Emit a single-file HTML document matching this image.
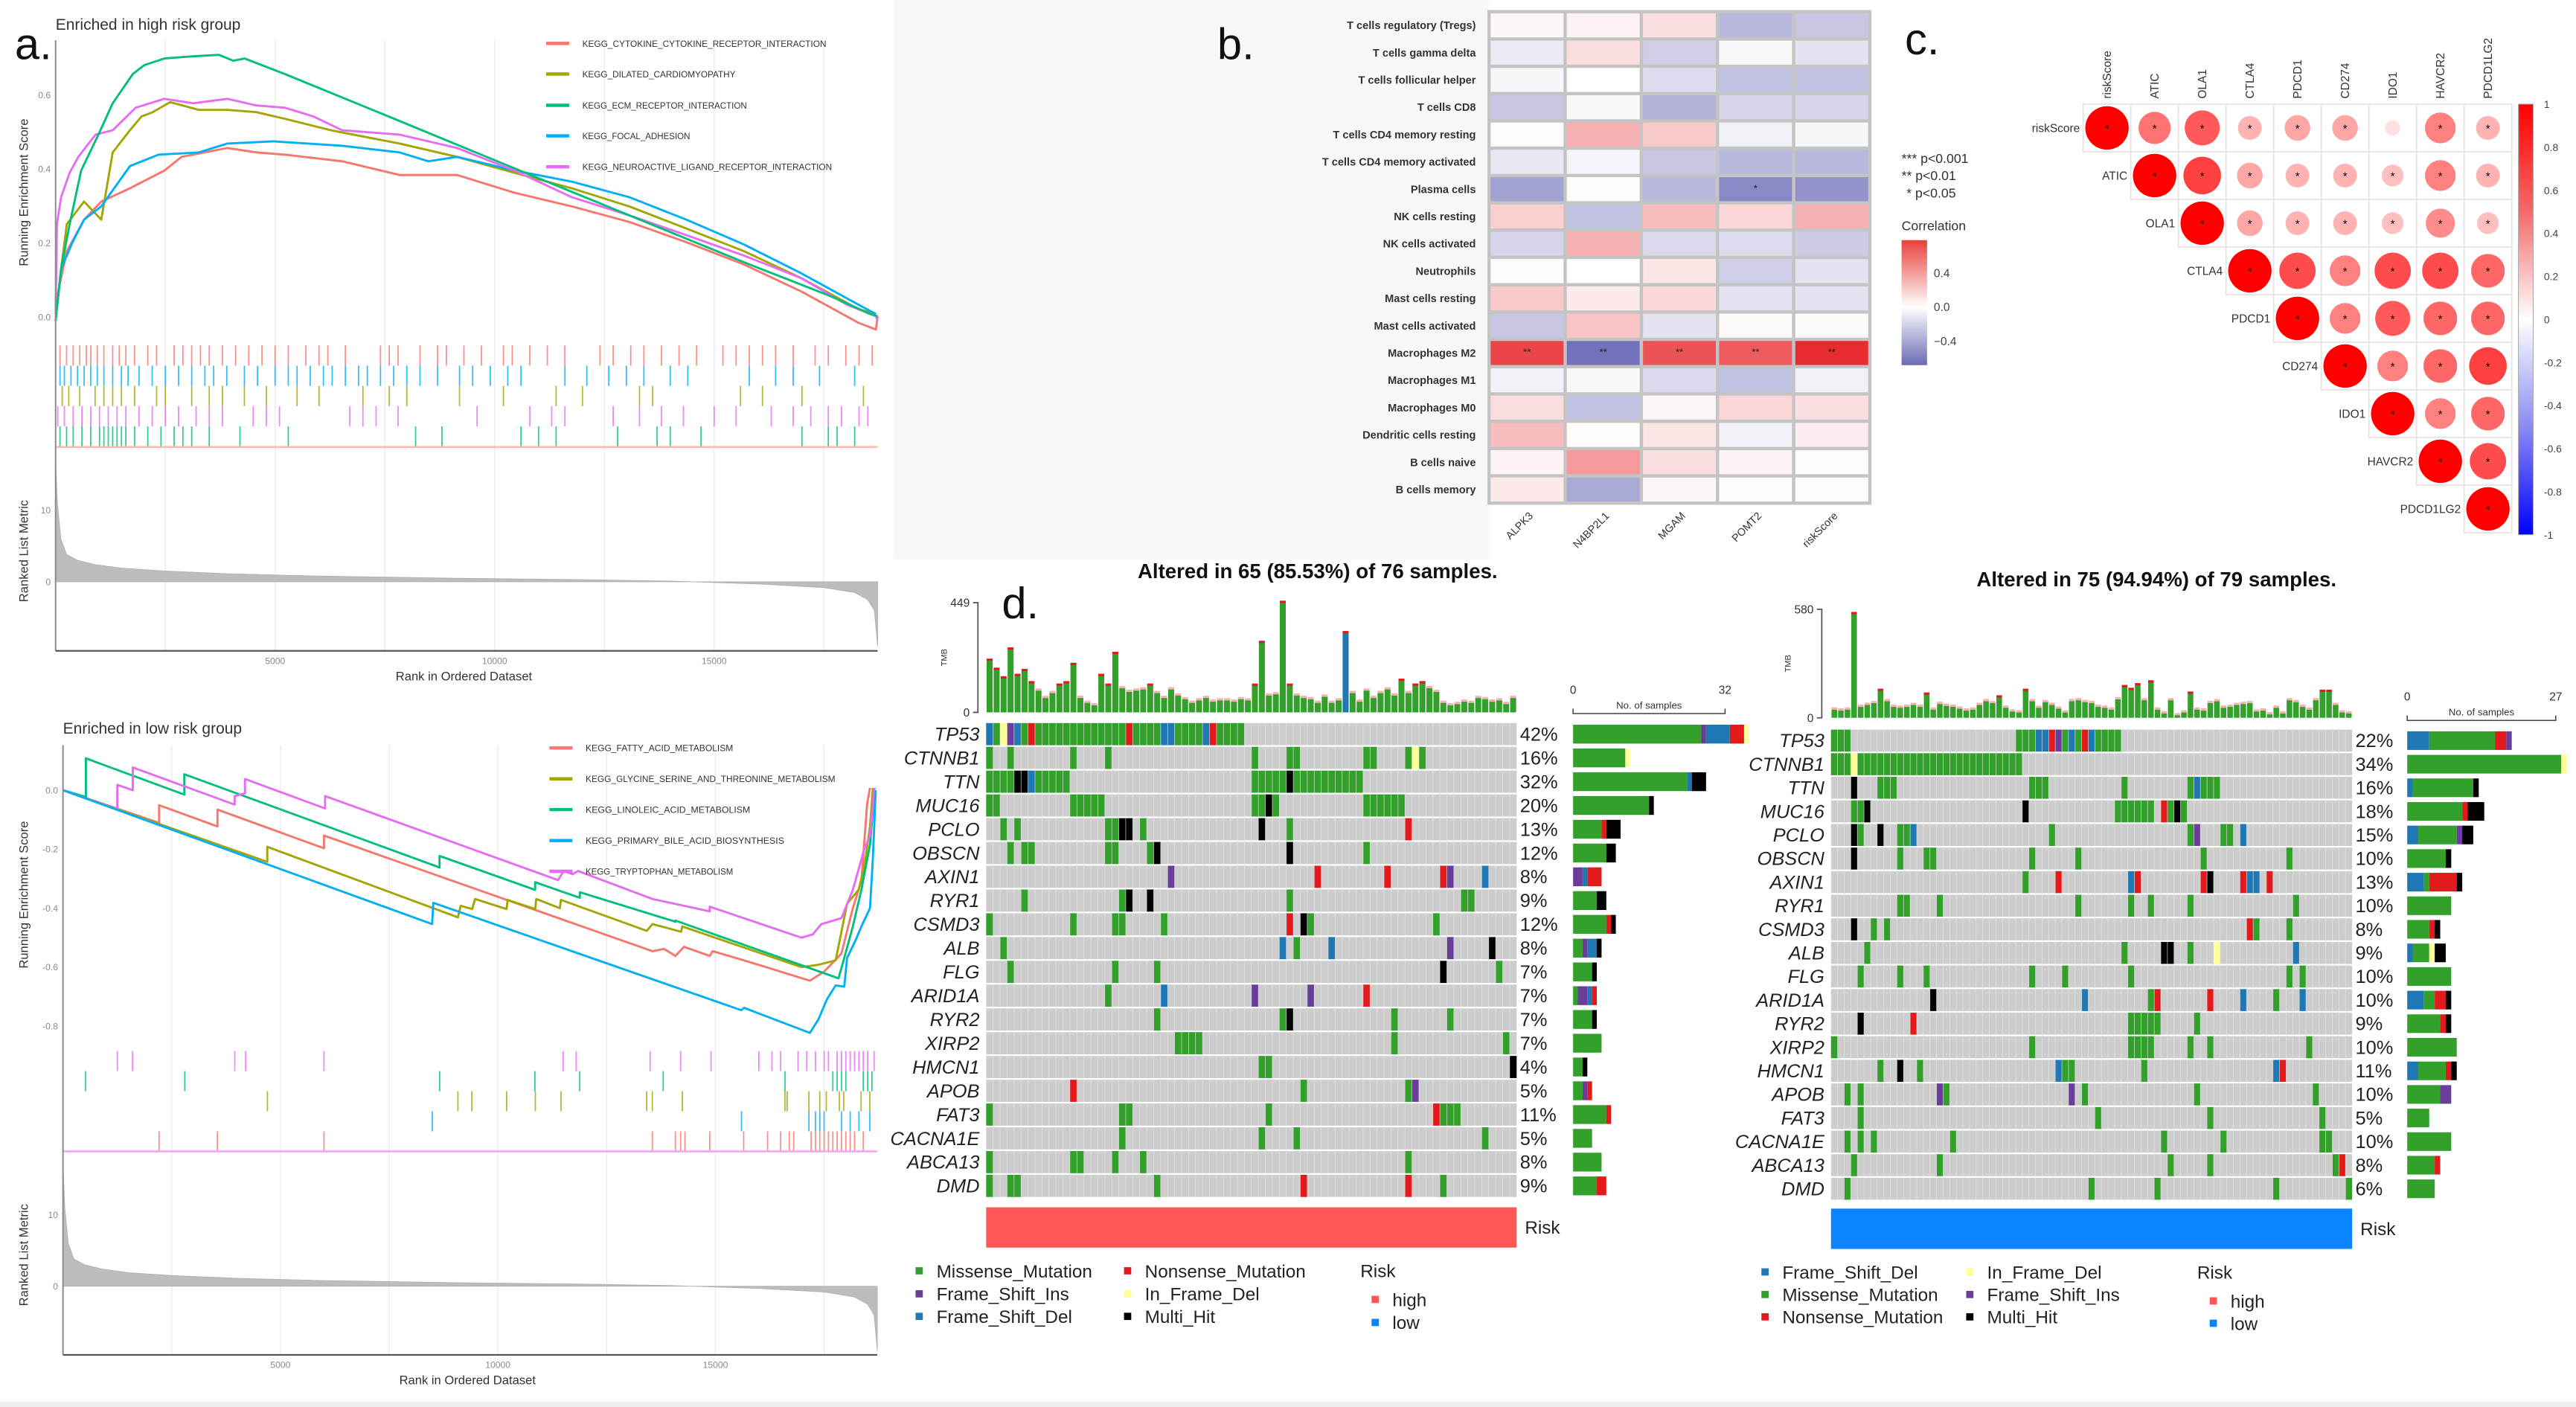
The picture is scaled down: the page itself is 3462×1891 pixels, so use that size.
<!DOCTYPE html>
<html><head><meta charset="utf-8">
<style>
html,body{margin:0;padding:0;background:#fff;}
svg{display:block;font-family:"Liberation Sans",Arial,sans-serif;}
</style></head>
<body>
<svg id="fig" xmlns="http://www.w3.org/2000/svg" width="3462" height="1891" viewBox="0 0 1566 855.4" preserveAspectRatio="none">
<rect x="0" y="0" width="1566" height="856" fill="#fff"/>
<rect x="543" y="0" width="362" height="340" fill="#f8f8f8"/>
<rect x="0" y="852" width="1566" height="4" fill="#f0f0f0"/>
<defs>
<linearGradient id="hmgrad" x1="0" y1="0" x2="0" y2="1">
<stop offset="0" stop-color="#e8413c"/><stop offset="0.535" stop-color="#ffffff"/><stop offset="1" stop-color="#6b6bb5"/></linearGradient>
<linearGradient id="cgrad" x1="0" y1="0" x2="0" y2="1">
<stop offset="0" stop-color="#ff0000"/><stop offset="0.25" stop-color="#f46a6a"/><stop offset="0.5" stop-color="#ffffff"/><stop offset="0.75" stop-color="#8a8af4"/><stop offset="1" stop-color="#0000ff"/></linearGradient>
</defs>
</svg>
<script>
// ---------- DATA: GSEA high risk ----------
const topNames=['KEGG_CYTOKINE_CYTOKINE_RECEPTOR_INTERACTION','KEGG_DILATED_CARDIOMYOPATHY','KEGG_ECM_RECEPTOR_INTERACTION','KEGG_FOCAL_ADHESION','KEGG_NEUROACTIVE_LIGAND_RECEPTOR_INTERACTION'];
const topRankRed=[0,60,255,648,1040,1693,2478,2870,3915,4569,5222,6529,7836,9143,10450,11757,13064,14371,15678,16985,18292,18684,18723];
const topEsRed=[-.010,.069,.178,.263,.312,.348,.396,.433,.457,.445,.439,.421,.384,.384,.336,.299,.257,.202,.142,.069,-.016,-.034,.002];
const topRankOlive=[0,125,255,648,1040,1301,1693,1955,2216,2608,3262,3915,4569,5222,6268,7836,9143,10450,11757,13064,14371,15678,16985,18292,18684];
const topEsOlive=[-.010,.130,.251,.312,.263,.445,.505,.542,.554,.581,.560,.560,.554,.536,.505,.469,.433,.390,.348,.299,.239,.178,.105,.021,.008];
const topRankGreen=[0,125,320,582,974,1301,1759,2020,2478,3131,3719,4046,4307,5222,7836,10450,13064,15678,17638,18553,18723];
const topEsGreen=[-.010,.130,.251,.396,.493,.578,.657,.681,.699,.705,.709,.693,.699,.657,.530,.402,.275,.148,.057,.008,.002];
const topRankBlue=[0,125,385,648,1040,1693,2347,3262,3915,4961,6529,7836,8490,9143,10450,11757,13064,14371,15678,16985,18292,18684];
const topEsBlue=[-.010,.130,.202,.263,.299,.408,.439,.445,.469,.475,.463,.445,.421,.433,.396,.366,.324,.263,.196,.118,.033,.008];
const topRankPink=[0,30,125,320,517,909,1301,1824,2478,3131,3915,4569,5222,5876,6529,7836,9143,10450,11757,13064,14371,15678,16985,18030,18684,18723];
const topEsPink=[.008,.251,.324,.390,.433,.493,.505,.566,.590,.578,.590,.572,.566,.542,.505,.493,.457,.396,.324,.275,.221,.166,.105,.033,.002,-.010];
const topHitsRed=[100,250,400,550,700,800,950,1100,1300,1450,1600,1800,2100,2300,2700,2900,3100,3300,3500,3800,4100,4400,4700,5000,5300,5700,6000,6200,6600,7400,7600,7800,8300,8700,8900,9300,9700,10200,10400,10800,11200,11600,12400,12700,13100,13400,13800,14200,14600,15200,15500,15800,16100,16400,16800,17300,17600,18000,18300,18600];
const topHitsBlue=[100,200,350,500,650,800,950,1100,1300,1500,1650,1900,2200,2500,2800,3100,3400,3600,3900,4300,4600,5000,5300,5500,5800,6100,6300,6600,6900,7100,7400,7700,8000,8300,8700,9200,9500,9900,10300,10600,11600,12100,12600,13000,13400,14000,14400,15800,16400,16800,17400,18200];
const topHitsOlive=[150,300,550,900,1100,1300,1500,1800,2300,2500,3100,3500,3800,4300,4800,5500,6000,7000,7600,8000,9200,10200,11400,12000,13300,13600,15600,16100,17000,18400];
const topHitsPink=[50,200,400,600,800,1000,1200,1400,1600,1900,2200,2500,2800,3200,3500,3800,4500,4800,5100,6700,7000,7300,7800,9600,10800,11300,11600,12700,13300,13800,14300,15000,15500,16300,16800,17200,17600,17900,18300,18500];
const topHitsGreen=[100,250,400,600,800,1000,1100,1200,1300,1400,1500,1600,1800,2100,2400,2700,2900,3100,3500,4200,5300,8200,8800,10600,11000,11400,12800,13700,14000,14700,17000,17600,17800,18200];
// ---------- DATA: GSEA low risk ----------
const botNames=['KEGG_FATTY_ACID_METABOLISM','KEGG_GLYCINE_SERINE_AND_THREONINE_METABOLISM','KEGG_LINOLEIC_ACID_METABOLISM','KEGG_PRIMARY_BILE_ACID_BIOSYNTHESIS','KEGG_TRYPTOPHAN_METABOLISM'];
const botRankRed=[0,2210,2210,3552,3552,6000,6000,13554,13817,14080,14278,14870,14936,15660,16844,17173,17502,17897,18160,18357,18489,18555];
const botEsRed=[0,-.111,-.051,-.123,-.066,-.197,-.154,-.546,-.538,-.562,-.531,-.562,-.546,-.577,-.631,-.646,-.615,-.554,-.4,-.308,-.046,.008];
const botRankOlive=[0,4697,4697,9080,9145,9409,9474,10198,10224,10856,10882,11422,11448,13422,13554,14212,14238,16976,17370,17765,18028,18292,18423,18555,18621];
const botEsOlive=[0,-.243,-.192,-.431,-.392,-.403,-.369,-.403,-.372,-.403,-.369,-.4,-.372,-.477,-.454,-.48,-.462,-.6,-.592,-.577,-.385,-.338,-.262,-.123,.008];
const botRankGreen=[0,526,526,2789,2789,8658,8658,10856,10856,11883,11883,14080,14080,17831,17963,18160,18357,18555,18660];
const botEsGreen=[0,-.023,.108,-.015,.054,-.262,-.223,-.338,-.312,-.365,-.346,-.446,-.442,-.638,-.569,-.462,-.338,-.185,0];
const botRankBlue=[0,8487,8514,15594,15660,17173,17370,17568,17765,17963,18028,18226,18357,18555,18621,18686];
const botEsBlue=[0,-.454,-.382,-.746,-.738,-.823,-.777,-.708,-.662,-.666,-.569,-.508,-.462,-.4,-.231,0];
const botRankPink=[0,1249,1249,1605,1605,3947,3947,4184,4184,6026,6026,11383,11514,11712,11843,13554,14278,14870,14870,16976,17239,17436,17897,18160,18423,18555,18660];
const botEsPink=[0,-.066,.018,0,.077,-.049,-.02,-.011,.038,-.062,-.02,-.305,-.274,-.285,-.274,-.369,-.392,-.411,-.395,-.5,-.489,-.454,-.434,-.338,-.2,-.154,.008];
const botHitsPink=[1250,1600,3950,4200,6000,11500,11800,13500,14200,14900,16000,16300,16500,16900,17100,17300,17500,17600,17800,17900,18000,18100,18200,18300,18400,18500,18650];
const botHitsGreen=[520,2800,8660,10850,11880,13800,16600,17700,17800,17900,18000,18400,18500,18600];
const botHitsOlive=[4700,9080,9400,10200,10860,11450,13420,13550,14240,16600,16650,17150,17400,17550,17850,17950,18350,18550];
const botHitsBlue=[8490,15600,17150,17300,17400,17500,17900,18100,18300,18550];
const botHitsRed=[2210,3550,6000,13550,14080,14200,14300,14870,15650,16200,16500,16700,16800,17200,17300,17400,17500,17600,17700,17800,17900,18000,18100,18200,18400];
const metricRanks=[0,40,120,250,500,900,1500,2500,4000,6000,9000,12000,14000,16000,17500,18200,18500,18650,18723];
const metricVals=[17,11,6,3.8,3,2.4,1.9,1.5,1.1,0.8,0.5,0.3,0.1,-0.3,-0.8,-1.5,-2.5,-4,-9];
const xTicks=[5000,10000,15000];
const topEsTicks=[0,0.2,0.4,0.6];
const botEsTicks=[0,-0.2,-0.4,-0.6,-0.8];
const metricTicks=[0,10];
// ---------- DATA: heatmap (b) ----------
const hmRows=['T cells regulatory (Tregs)','T cells gamma delta','T cells follicular helper','T cells CD8','T cells CD4 memory resting','T cells CD4 memory activated','Plasma cells','NK cells resting','NK cells activated','Neutrophils','Mast cells resting','Mast cells activated','Macrophages M2','Macrophages M1','Macrophages M0','Dendritic cells resting','B cells naive','B cells memory'];
const hmCols=['ALPK3','N4BP2L1','MGAM','POMT2','riskScore'];
const hmVals=[[0.03,0.05,0.12,-0.25,-0.2],[-0.07,0.12,-0.17,-0.02,-0.1],[-0.03,0,-0.12,-0.22,-0.22],[-0.2,-0.02,-0.27,-0.15,-0.15],[0.01,0.3,0.2,-0.05,-0.03],[-0.08,-0.04,-0.2,-0.25,-0.25],[-0.33,0.01,-0.25,-0.42,-0.38],[0.18,-0.22,0.25,0.15,0.3],[-0.15,0.3,-0.13,-0.12,-0.18],[0.01,0,0.1,-0.17,-0.1],[0.2,0.08,0.15,-0.1,-0.1],[-0.2,0.22,-0.1,0.02,0.02],[0.7,-0.5,0.65,0.62,0.8],[-0.05,-0.02,-0.13,-0.22,-0.05],[0.12,-0.22,0.03,0.15,0.12],[0.25,0.01,0.1,-0.05,0.07],[0.04,0.38,0.12,0.05,0.01],[0.08,-0.3,0.03,-0.01,-0.01]];
const hmSig=[['','','','',''],['','','','',''],['','','','',''],['','','','',''],['','','','',''],['','','','',''],['','','','*',''],['','','','',''],['','','','',''],['','','','',''],['','','','',''],['','','','',''],['**','**','**','**','**'],['','','','',''],['','','','',''],['','','','',''],['','','','',''],['','','','','']];
// ---------- DATA: corrplot (c) ----------
const corrGenes=['riskScore','ATIC','OLA1','CTLA4','PDCD1','CD274','IDO1','HAVCR2','PDCD1LG2'];
const corrVals=[[1,.55,.65,.3,.35,.35,.12,.5,.3],[1,.75,.35,.3,.3,.25,.5,.3],[1,.35,.3,.3,.25,.45,.25],[1,.7,.5,.7,.7,.6],[1,.5,.65,.6,.6],[1,.5,.6,.75],[1,.5,.6],[1,.7],[1]];
const corrSig=[[1,1,1,1,1,1,0,1,1],[1,1,1,1,1,1,1,1],[1,1,1,1,1,1,1],[1,1,1,1,1,1],[1,1,1,1,1],[1,1,1,1],[1,1,1],[1,1],[1]];
const corrTicks=[1,0.8,0.6,0.4,0.2,0,-0.2,-0.4,-0.6,-0.8,-1];
// ---------- DATA: oncoplots (d) ----------
const oncoGenesL=['TP53','CTNNB1','TTN','MUC16','PCLO','OBSCN','AXIN1','RYR1','CSMD3','ALB','FLG','ARID1A','RYR2','XIRP2','HMCN1','APOB','FAT3','CACNA1E','ABCA13','DMD'];
const oncoPctL=['42%','16%','32%','20%','13%','12%','8%','9%','12%','8%','7%','7%','7%','7%','4%','5%','11%','5%','8%','9%'];
const oncoMutL=['0d 1m 2f 3i 4d 5m 6n 7-19m 20n 21-24m 25-26d 27-30m 31d 32n 33-36m','0m 3m 12m 17m 38m 43-44m 54-55m 60m 61f 62m','0-3m 4-5h 6d 7-11m 38-42m 43h 44-53m','0-1m 12-16m 38-39m 40h 41m 54-59m','2m 4m 17-18m 19-20h 22m 39h 43m 60n','3m 5-6m 17-18m 23m 24h 43h 54m','26i 47n 57n 65n 66i 71d','5m 19m 20h 23h 43m 68-69m','0m 12m 18-19m 25m 43n 45h 46m 64m','2m 42d 44m 49d 66i 72h','3m 18m 24m 65h 73m','17m 25d 38i 46i 54n','24m 42m 43h 58m 66m','27-30m 58m 74m','39-40m 75h','12n 45m 60m 61i','0m 19-20m 40m 64n 65-67m','19m 39m 44m 71m','0m 12-13m 18m 22m 60m','0m 3-4m 24m 45n 60n 65m'];
const tmbL=[212,175,140,258,150,170,120,90,60,80,110,120,195,60,40,30,150,110,240,100,85,90,95,110,80,60,95,70,55,40,50,60,45,50,50,45,55,50,110,285,70,75,449,110,70,60,55,40,65,40,50,325,80,45,90,60,80,95,70,130,80,110,120,100,85,40,30,35,45,40,60,55,45,50,35,60];
const tmbLBlue=[51];
const oncoGenesR=['TP53','CTNNB1','TTN','MUC16','PCLO','OBSCN','AXIN1','RYR1','CSMD3','ALB','FLG','ARID1A','RYR2','XIRP2','HMCN1','APOB','FAT3','CACNA1E','ABCA13','DMD'];
const oncoPctR=['22%','34%','16%','18%','15%','10%','13%','10%','8%','9%','10%','10%','9%','10%','11%','10%','5%','10%','8%','6%'];
const oncoMutR=['0-2m 28-30m 31-32d 33n 34i 35m 36d 37m 38n 39d 40-43m','0-2m 3f 4-28m','3h 7-9m 30-32m 44m 54m 55d 56-58m','3-4m 5h 29h 43-48m 50n 51m 52h 53m','3h 4m 7h 10-11m 12d 33m 54m 55i 59-60m 62d','3h 10m 14-15m 30m 37m 56m 69m','29m 34n 45d 46n 56n 57h 62n 63-64d 66n','10-11m 16m 37m 45m 48m 54m 70m','3h 6m 8m 63n 64m 69m','5m 44m 50-51h 54m 58f 70d','4m 10m 14m 30m 35m 45m 69m 71m','15h 38d 48m 49n 57n 62d 67m 71d','4h 12n 45-49m 55m','0m 30m 45-48m 54m 57m 72m','7m 10h 13m 34d 35-36m 47m 67d 68n','2m 4m 16i 17m 36i 38m 55m 73m','4m 40m 57m 74m','2m 4m 6m 18m 50m 59m 74-75m','3m 16m 51m 57m 76m 77n','2m 39m 49m 67m 78m'];
const tmbR=[45,40,45,555,60,70,80,145,90,60,55,60,70,60,125,45,75,65,60,50,40,45,70,90,80,110,55,35,30,145,90,55,85,70,50,30,90,95,85,80,60,55,45,100,165,150,175,95,190,45,25,95,15,30,130,45,40,80,90,55,60,70,75,80,35,40,20,55,25,95,85,60,45,95,140,140,70,30,25];

// ---------- helpers ----------
const NS='http://www.w3.org/2000/svg';
const svg=document.getElementById('fig');
function mk(tag,attrs,parent){const e=document.createElementNS(NS,tag);for(const k in attrs)e.setAttribute(k,attrs[k]);(parent||svg).appendChild(e);return e;}
function tx(str,attrs,parent){const e=mk('text',attrs,parent);e.textContent=str;return e;}
const GC={red:'#f8766d',olive:'#a3a500',green:'#00bf7d',blue:'#00b0f6',pink:'#e76bf3'};

// ---------- GSEA panel builder ----------
function gsea(cfg){
  const g=mk('g',{});
  
  
  const X=r=>cfg.x0+r*cfg.xs;
  const YE=v=>cfg.es0-v*cfg.esk;
  const YM=v=>cfg.m0-v*cfg.mk;
  // grid
  for(let r=2500;r<18723;r+=2500){
    const gl=mk('line',{x1:X(r),x2:X(r),y1:cfg.top,y2:cfg.axisY,stroke:'#ececec','stroke-width':0.6},g);
    
    
  }
  // es ticks
  cfg.esTicks.forEach(v=>{
    const t=tx(v.toFixed(1),{x:cfg.x0-3,y:YE(v)+2,'font-size':5.5,fill:'#8a8a8a','text-anchor':'end'},g);
    
    
  });
  cfg.mTicks.forEach(v=>{
    const t=tx(String(v),{x:cfg.x0-3,y:YM(v)+2,'font-size':5.5,fill:'#8a8a8a','text-anchor':'end'},g);
    
    
  });
  // metric area
  let d='M'+X(metricRanks[0])+','+YM(0);
  metricRanks.forEach((r,i)=>{d+=' L'+X(r).toFixed(2)+','+YM(metricVals[i]).toFixed(2);});
  d+=' L'+X(metricRanks[metricRanks.length-1])+','+YM(0)+'Z';
  const ar=mk('path',{d:d,fill:'#bdbdbd',stroke:'#b0b0b0','stroke-width':0.4},g);
  
  
  // hits
  cfg.hits.forEach((h,i)=>{
    const y1=cfg.hitTop+i*cfg.hitH;
    h.ranks.forEach(r=>{
      const l=mk('line',{x1:X(r),x2:X(r),y1:y1,y2:y1+cfg.hitH,stroke:GC[h.c],'stroke-width':0.8,opacity:0.8},g);
      
      
    });
  });
  const bl=mk('line',{x1:cfg.x0,x2:X(18723),y1:cfg.hitBase,y2:cfg.hitBase,stroke:cfg.baseCol,'stroke-width':1.2},g);
  
  
  // lines
  cfg.series.forEach(s=>{
    const pts=s.r.map((r,i)=>X(r).toFixed(2)+','+YE(s.e[i]).toFixed(2)).join(' ');
    const pl=mk('polyline',{points:pts,fill:'none',stroke:GC[s.c],'stroke-width':1.3,'stroke-linejoin':'round'},g);
    
    
  });
  // axes
  const ya=mk('line',{x1:cfg.x0,x2:cfg.x0,y1:cfg.top,y2:cfg.axisY,stroke:'#8c8c8c','stroke-width':0.9},g);
  
  
  const xa=mk('line',{x1:cfg.x0,x2:X(18723),y1:cfg.axisY,y2:cfg.axisY,stroke:'#555','stroke-width':1},g);
  
  
  xTicks.forEach(r=>{
    const t=tx(String(r),{x:X(r),y:cfg.axisY+8,'font-size':5.5,fill:'#8a8a8a','text-anchor':'middle'},g);
    
    
  });
  const xt=tx('Rank in Ordered Dataset',{x:X(9300),y:cfg.axisY+18,'font-size':7.5,fill:'#333','text-anchor':'middle'},g);
  
  
  const y1t=tx('Running Enrichment Score',{x:0,y:0,'font-size':7.5,fill:'#333','text-anchor':'middle',transform:'translate(17,'+cfg.esLabY+') rotate(-90)'},g);
  
  
  const y2t=tx('Ranked List Metric',{x:0,y:0,'font-size':7.5,fill:'#333','text-anchor':'middle',transform:'translate(17,'+cfg.mLabY+') rotate(-90)'},g);
  
  
  const tt=tx(cfg.title,{x:cfg.x0,y:cfg.titleY,'font-size':9.5,fill:'#333'},g);
  
  
  // legend
  cfg.legNames.forEach((n,i)=>{
    const ly=cfg.legY[i];
    const ll=mk('line',{x1:cfg.legX,x2:cfg.legX+14,y1:ly,y2:ly,stroke:GC[cfg.legCols[i]],'stroke-width':2},g);
    
    
    const lt=tx(n,{x:cfg.legX+22,y:ly+2,'font-size':5.6,fill:'#333',textLength:n.length*3.45,lengthAdjust:'spacingAndGlyphs'},g);
    
    
  });
}
gsea({name:'gsea-high-risk',x0:33.8,xs:0.02669,es0:192.7,esk:224.8,m0:353.7,mk:4.36,top:24.5,axisY:395.7,
  hitTop:210,hitH:12.3,hitBase:271.8,baseCol:'#f9b9b5',esTicks:topEsTicks,mTicks:metricTicks,
  hits:[{c:'red',ranks:topHitsRed},{c:'blue',ranks:topHitsBlue},{c:'olive',ranks:topHitsOlive},{c:'pink',ranks:topHitsPink},{c:'green',ranks:topHitsGreen}],
  series:[{c:'red',r:topRankRed,e:topEsRed},{c:'olive',r:topRankOlive,e:topEsOlive},{c:'blue',r:topRankBlue,e:topEsBlue},{c:'pink',r:topRankPink,e:topEsPink},{c:'green',r:topRankGreen,e:topEsGreen}],
  esLabY:117,mLabY:335,title:'Enriched in high risk group',titleY:18,
  legNames:topNames,legCols:['red','olive','green','blue','pink'],legX:332,legY:[26.4,45,64,82.6,101.4]});
gsea({name:'gsea-low-risk',x0:38.3,xs:0.02644,es0:480.4,esk:179.3,m0:782,mk:4.36,top:453,axisY:823.7,
  hitTop:639,hitH:12.2,hitBase:700,baseCol:'#f2a6f2',esTicks:botEsTicks,mTicks:metricTicks,
  hits:[{c:'pink',ranks:botHitsPink},{c:'green',ranks:botHitsGreen},{c:'olive',ranks:botHitsOlive},{c:'blue',ranks:botHitsBlue},{c:'red',ranks:botHitsRed}],
  series:[{c:'red',r:botRankRed,e:botEsRed},{c:'olive',r:botRankOlive,e:botEsOlive},{c:'green',r:botRankGreen,e:botEsGreen},{c:'pink',r:botRankPink,e:botEsPink},{c:'blue',r:botRankBlue,e:botEsBlue}],
  esLabY:544,mLabY:763,title:'Enriched in low risk group',titleY:446,
  legNames:botNames,legCols:['red','olive','green','blue','pink'],legX:334,legY:[454.7,473.5,492.2,511,529.7]});

// panel letters
[['a.',9,36],['b.',740,36],['c.',1158,33],['d.',609,376]].forEach(p=>{
  const t=tx(p[0],{x:p[1],y:p[2],'font-size':27,fill:'#111'});
  
  
});

// ---------- heatmap ----------
(function(){
  const g=mk('g',{});
  
  
  const L=905.2,T=7.1,CW=46.3,RH=16.6;
  function col(v){
    let c0,t;
    if(v>=0){c0=[230,30,35];t=Math.min(1,v/0.85);}else{c0=[100,100,180];t=Math.min(1,-v/0.55);}
    const c=c0.map(k=>Math.round(255+(k-255)*t));
    return 'rgb('+c.join(',')+')';
  }
  const bg=mk('rect',{x:L-1,y:T-1,width:CW*hmCols.length+2,height:RH*hmRows.length+2,fill:'#c4c4c4'},g);
  
  
  hmRows.forEach((rn,i)=>{
    const lab=tx(rn,{x:L-8,y:T+i*RH+RH/2+2.3,'font-size':6.6,fill:'#333','text-anchor':'end','font-weight':'bold'},g);
    
    
    hmCols.forEach((cn,j)=>{
      const r=mk('rect',{x:L+j*CW+1,y:T+i*RH+1,width:CW-2,height:RH-2,fill:col(hmVals[i][j])},g);
      
      
      if(hmSig[i][j]){
        const s=tx(hmSig[i][j],{x:L+j*CW+CW/2,y:T+i*RH+RH/2+1.5,'font-size':6,fill:'#222','text-anchor':'middle'},g);
        
        
      }
    });
  });
  hmCols.forEach((cn,j)=>{
    const cx=L+j*CW+CW/2+4;
    const t=tx(cn,{x:0,y:0,'font-size':6.5,fill:'#333','text-anchor':'end',transform:'translate('+cx+',314) rotate(-45)'},g);
    
    
  });
  [['*** ',' p<0.001',99],['** ',' p<0.01',109.5],['* ',' p<0.05',120]].forEach((p,i)=>{
    const t=tx(p[0]+p[1],{x:1156+(i==2?3:0),y:p[2],'font-size':8,fill:'#333'},g);
    
    
  });
  const ct=tx('Correlation',{x:1156,y:140,'font-size':8,fill:'#333'},g);
  
  
  const cb=mk('rect',{x:1156,y:146,width:15.5,height:76,fill:'url(#hmgrad)'},g);
  
  
  [['0.4',168.5],['0.0',189],['−0.4',210]].forEach(p=>{
    const t=tx(p[0],{x:1175.6,y:p[1],'font-size':7,fill:'#444'},g);
    
    
  });
})();

// ---------- corrplot ----------
(function(){
  const g=mk('g',{});
  
  
  const L=1266.4,T=63.3,C=28.95;
  corrGenes.forEach((gn,i)=>{
    const cl=tx(gn,{x:0,y:0,'font-size':7,fill:'#333',transform:'translate('+(L+i*C+C/2+2.5)+',60) rotate(-90)'},g);
    
    
    const rl=tx(gn,{x:L+i*C-2,y:T+i*C+C/2+2.5,'font-size':7,fill:'#333','text-anchor':'end'},g);
    
    
    corrVals[i].forEach((v,k)=>{
      const j=i+k;
      const cell=mk('rect',{x:L+j*C,y:T+i*C,width:C,height:C,fill:'#fff',stroke:'#e4e4e4','stroke-width':0.8},g);
      
      
      const t=Math.min(1,v);
      const gcol=Math.round(255*(1-t));
      const c=mk('circle',{cx:L+j*C+C/2,cy:T+i*C+C/2,r:13.2*Math.sqrt(Math.abs(v)),fill:'rgb(255,'+gcol+','+gcol+')'},g);
      
      
      if(corrSig[i][k]){
        const s=tx('*',{x:L+j*C+C/2,y:T+i*C+C/2+3,'font-size':7,fill:'#111','text-anchor':'middle'},g);
        
        
      }
    });
  });
  const cb=mk('rect',{x:1531,y:63.3,width:9,height:261.8,fill:'url(#cgrad)',stroke:'#aaa','stroke-width':0.5},g);
  
  
  corrTicks.forEach(v=>{
    const y=63.3+(1-v)/2*261.8;
    const t=tx(String(v),{x:1546.5,y:y+2.3,'font-size':6.3,fill:'#444'},g);
    
    
  });
})();

// ---------- oncoplots ----------
const MC={m:'#33a02c',n:'#e31a1c',i:'#6a3d9a',d:'#1f78b4',f:'#ffff99',h:'#000000'};
function parseRow(s){const o={};s.split(' ').forEach(tok=>{const ty=tok.slice(-1);const rng=tok.slice(0,-1).split('-').map(Number);const a=rng[0],b=rng.length>1?rng[1]:rng[0];for(let k=a;k<=b;k++)o[k]=ty;});return o;}
function onco(cfg){
  const g=mk('g',{});
  
  
  const n=cfg.tmb.length, cw=(cfg.R-cfg.L)/n, rh=(cfg.B-cfg.T)/cfg.genes.length;
  const tt=tx(cfg.title,{x:cfg.titleX,y:cfg.titleY,'font-size':12.5,'font-weight':'bold',fill:'#111','text-anchor':'middle'},g);
  
  
  // TMB
  const ax=mk('path',{d:'M'+(cfg.axX-3)+','+cfg.tmbTop+' H'+cfg.axX+' V'+cfg.tmb0+' H'+(cfg.axX-3),fill:'none',stroke:'#555','stroke-width':0.8},g);
  
  
  const a1=tx(String(cfg.tmbMax),{x:cfg.axX-5,y:cfg.tmbTop+2.5,'font-size':7,fill:'#333','text-anchor':'end'},g);
  
  
  const a0=tx('0',{x:cfg.axX-5,y:cfg.tmb0+2.5,'font-size':7,fill:'#333','text-anchor':'end'},g);
  
  
  const at=tx('TMB',{x:0,y:0,'font-size':5,fill:'#333','text-anchor':'middle',transform:'translate('+(cfg.axX-19)+','+((cfg.tmbTop+cfg.tmb0)/2)+') rotate(-90)'},g);
  
  
  const hk=(cfg.tmb0-cfg.tmbTop)/cfg.tmbMax;
  cfg.tmb.forEach((v,i)=>{
    const h=v*hk;
    const b=mk('rect',{x:cfg.L+i*cw+0.3,y:cfg.tmb0-h,width:cw-0.6,height:h,fill:cfg.blue.indexOf(i)>=0?MC.d:MC.m},g);
    
    
    const cap=mk('rect',{x:cfg.L+i*cw+0.3,y:cfg.tmb0-h-1.2,width:cw-0.6,height:1.4,fill:v>100?MC.n:'#f8b0b0'},g);
    
    
  });
  // side axis
  const sx=cfg.sideL, sk=cfg.sideW/cfg.sideMax;
  const sa=mk('path',{d:'M'+sx+','+(cfg.sideAxY-3)+' V'+cfg.sideAxY+' H'+(sx+cfg.sideW)+' V'+(cfg.sideAxY-3),fill:'none',stroke:'#444','stroke-width':0.7},g);
  
  
  const s0=tx('0',{x:sx,y:cfg.sideAxY-12,'font-size':7,fill:'#333','text-anchor':'middle'},g);
  
  
  const s1=tx(String(cfg.sideMax),{x:sx+cfg.sideW,y:cfg.sideAxY-12,'font-size':7,fill:'#333','text-anchor':'middle'},g);
  
  
  const st=tx('No. of samples',{x:sx+cfg.sideW/2,y:cfg.sideAxY-3,'font-size':6,fill:'#333','text-anchor':'middle'},g);
  
  
  cfg.genes.forEach((gn,r)=>{
    const y=cfg.T+r*rh;
    const bg=mk('rect',{x:cfg.L,y:y+0.5,width:cfg.R-cfg.L,height:rh-1,fill:'#cdcdcd'},g);
    
    
    const lab=tx(gn,{x:cfg.L-4,y:y+rh/2+4,'font-size':11.5,'font-style':'italic',fill:'#222','text-anchor':'end'},g);
    
    
    const pl=tx(cfg.pct[r],{x:cfg.R+2,y:y+rh/2+4,'font-size':11.5,fill:'#222'},g);
    
    
    const row=parseRow(cfg.mut[r]);
    const cnt={};
    for(const k in row){
      const ty=row[k]; cnt[ty]=(cnt[ty]||0)+1;
      const c=mk('rect',{x:cfg.L+k*cw,y:y+0.5,width:cw,height:rh-1,fill:MC[ty]},g);
      
      
    }
    let acc=0;
    cfg.order.forEach(ty=>{
      if(!cnt[ty])return;
      const w=cnt[ty]*sk;
      const sb=mk('rect',{x:sx+acc,y:y+1.5,width:w,height:rh-3,fill:MC[ty]},g);
      
      
      acc+=w;
    });
  });
  for(let i=1;i<n;i++){
    const l=mk('line',{x1:cfg.L+i*cw,x2:cfg.L+i*cw,y1:cfg.T,y2:cfg.B,stroke:'#e6e6e6','stroke-width':0.35,opacity:0.8},g);
    
    
  }
  const rb=mk('rect',{x:cfg.L,y:cfg.riskY,width:cfg.R-cfg.L,height:24.5,fill:cfg.riskCol},g);
  
  
  const rl=tx('Risk',{x:cfg.R+5,y:cfg.riskY+16,'font-size':11,fill:'#222'},g);
  
  
  cfg.legend.forEach(le=>{
    const sq=mk('rect',{x:le[1]-2.2,y:le[2]-2.2,width:4.4,height:4.4,fill:le[3]},g);
    
    
    const t=tx(le[0],{x:le[1]+10.5,y:le[2]+4,'font-size':11,fill:'#222'},g);
    
    
  });
  const rt=tx('Risk',{x:cfg.riskLegX,y:cfg.legY0+4,'font-size':11,fill:'#222'},g);
  
  
}
onco({name:'oncoplot-high-risk',title:'Altered in 65 (85.53%) of 76 samples.',titleX:801,titleY:351.5,
  L:599.5,R:922,T:439.1,B:728.2,axX:594.5,tmbTop:366.4,tmb0:433.1,tmbMax:449,tmb:tmbL,blue:tmbLBlue,
  genes:oncoGenesL,pct:oncoPctL,mut:oncoMutL,sideL:956.3,sideW:92.4,sideMax:32,sideAxY:433.8,order:['m','i','d','n','f','h'],
  riskY:734,riskCol:'#ff5656',riskLegX:827,legY0:772.5,
  legend:[['Missense_Mutation',558.8,772.6,MC.m],['Frame_Shift_Ins',558.8,786.6,MC.i],['Frame_Shift_Del',558.8,800.3,MC.d],
    ['Nonsense_Mutation',685.5,772.6,MC.n],['In_Frame_Del',685.5,786.6,MC.f],['Multi_Hit',685.5,800.3,MC.h],
    ['high',836,790,'#ff5656'],['low',836,804,'#0a84ff']]});
onco({name:'oncoplot-low-risk',title:'Altered in 75 (94.94%) of 79 samples.',titleX:1311,titleY:356.5,
  L:1113.1,R:1429.9,T:443.1,B:729.9,axX:1107.5,tmbTop:370.4,tmb0:436.4,tmbMax:580,tmb:tmbR,blue:[],
  genes:oncoGenesR,pct:oncoPctR,mut:oncoMutR,sideL:1463.4,sideW:90.3,sideMax:27,sideAxY:438,order:['d','m','n','i','f','h'],
  riskY:734.8,riskCol:'#0a84ff',riskLegX:1335.7,legY0:773.3,
  legend:[['Frame_Shift_Del',1073,773.3,MC.d],['Missense_Mutation',1073,787,MC.m],['Nonsense_Mutation',1073,800.6,MC.n],
    ['In_Frame_Del',1197.5,773.3,MC.f],['Frame_Shift_Ins',1197.5,787,MC.i],['Multi_Hit',1197.5,800.6,MC.h],
    ['high',1345.5,790.9,'#ff5656'],['low',1345.5,804.5,'#0a84ff']]});
</script>
</body></html>
